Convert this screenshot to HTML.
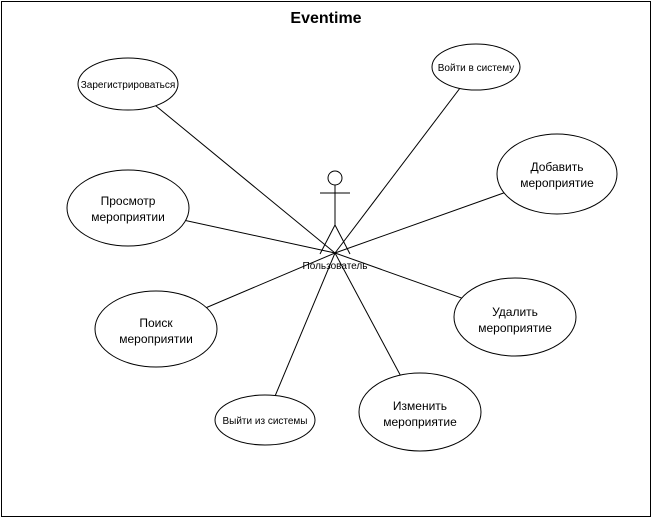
<!DOCTYPE html>
<html><head><meta charset="utf-8"><style>body{margin:0;background:#fff}svg{display:block}</style></head><body>
<svg width="653" height="519" xmlns="http://www.w3.org/2000/svg" font-family="Liberation Sans, sans-serif">
<rect x="1.5" y="1.5" width="649" height="515" fill="#fff" stroke="#000"/>
<text x="326" y="23" text-anchor="middle" font-size="16" font-weight="bold">Eventime</text>
<g stroke="#000" stroke-width="1">
<line x1="335" y1="253" x2="128" y2="83"/>
<line x1="335" y1="253" x2="476" y2="67"/>
<line x1="335" y1="253" x2="557" y2="174"/>
<line x1="335" y1="253" x2="128" y2="208"/>
<line x1="335" y1="253" x2="156" y2="329"/>
<line x1="335" y1="253" x2="515" y2="317"/>
<line x1="335" y1="253" x2="420" y2="412"/>
<line x1="335" y1="253" x2="265" y2="420"/>
</g>
<g fill="#fff" stroke="#000">
<ellipse cx="128" cy="84" rx="50" ry="26"/>
<ellipse cx="476" cy="67" rx="44" ry="23"/>
<ellipse cx="557" cy="174" rx="60" ry="40"/>
<ellipse cx="128" cy="208" rx="61" ry="38"/>
<ellipse cx="156" cy="329" rx="61" ry="38"/>
<ellipse cx="515" cy="317" rx="61" ry="39"/>
<ellipse cx="420" cy="412" rx="61" ry="39"/>
<ellipse cx="265" cy="420" rx="50" ry="25"/>
</g>
<g stroke="#000" fill="none">
<circle cx="335" cy="178" r="7"/>
<line x1="335" y1="185" x2="335" y2="225"/>
<line x1="320" y1="193" x2="350" y2="193"/>
<line x1="335" y1="225" x2="320" y2="254"/>
<line x1="335" y1="225" x2="350" y2="254"/>
</g>
<g font-size="10" text-anchor="middle">
<text x="335" y="269">Пользователь</text>
<text x="128" y="88">Зарегистрироваться</text>
<text x="476" y="71">Войти в систему</text>
<text x="265" y="424">Выйти из системы</text>
</g>
<g font-size="12" text-anchor="middle">
<text x="557" y="171">Добавить</text><text x="557" y="187">мероприятие</text>
<text x="128" y="205">Просмотр</text><text x="128" y="221">мероприятии</text>
<text x="156" y="327">Поиск</text><text x="156" y="343">мероприятии</text>
<text x="515" y="316">Удалить</text><text x="515" y="332">мероприятие</text>
<text x="420" y="410">Изменить</text><text x="420" y="426">мероприятие</text>
</g>
</svg>
</body></html>
